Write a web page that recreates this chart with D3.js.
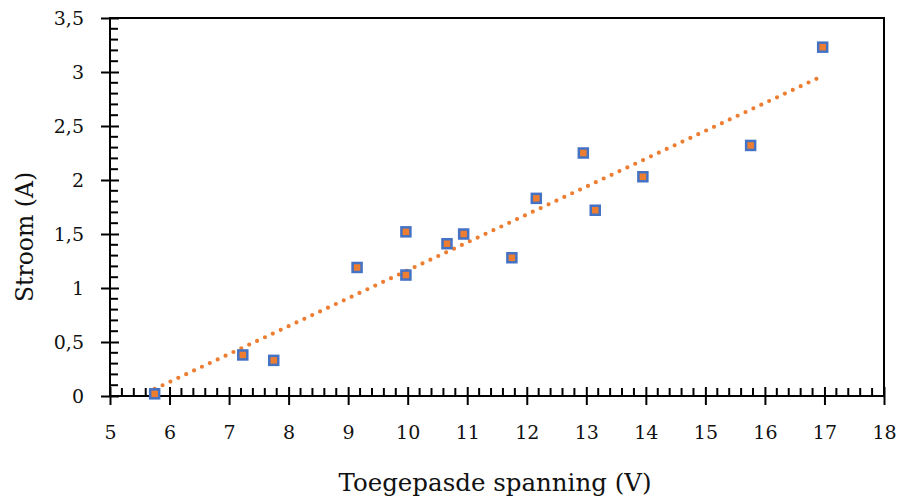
<!DOCTYPE html>
<html>
<head>
<meta charset="utf-8">
<script src="https://cdn.jsdelivr.net/npm/d3@7"></script>
<style>
  body { margin: 0; background: #fff; }
  svg text { font-family: "DejaVu Serif", "Liberation Serif", serif; fill: #111; }
</style>
</head>
<body>
<div id="chart"></div>
<script>
// measured points
const spanning = [5.75, 7.23, 7.75, 9.15, 9.97, 9.97, 10.66, 10.94, 11.75, 12.16, 12.95, 13.15, 13.95, 15.76, 16.97];
const stroom   = [0.02, 0.38, 0.33, 1.19, 1.52, 1.12, 1.41, 1.50, 1.28, 1.83, 2.25, 1.72, 2.03, 2.32, 3.23];
const xTicks = [5, 6, 7, 8, 9, 10, 11, 12, 13, 14, 15, 16, 17, 18];
const yTicks = [0, 0.5, 1, 1.5, 2, 2.5, 3, 3.5];

const width = 898, height = 499;
const margin = { top: 18, right: 14, bottom: 103, left: 110 };
const w = width - margin.left - margin.right;
const h = height - margin.top - margin.bottom;

const svg = d3.select("#chart").append("svg")
    .attr("width", width)
    .attr("height", height);

const g = svg.append("g")
    .attr("transform", `translate(${margin.left},${margin.top})`);

const x = d3.scaleLinear().domain([5, 18]).range([0, w]);
const y = d3.scaleLinear().domain([0, 3.5]).range([h, 0]);

g.append("defs").append("clipPath").attr("id", "plotclip")
  .append("rect").attr("width", w).attr("height", h);

// frame
g.append("rect")
    .attr("width", w).attr("height", h)
    .attr("fill", "none")
    .attr("stroke", "#000")
    .attr("stroke-width", 2);

// minor ticks (inside)
const xMinor = d3.range(5, 18.001, 0.2).filter(v => Math.abs(v - Math.round(v)) > 0.01);
g.append("g").selectAll("line")
  .data(xMinor)
  .join("line")
    .attr("x1", d => x(d)).attr("x2", d => x(d))
    .attr("y1", h).attr("y2", h - 8)
    .attr("stroke", "#000").attr("stroke-width", 2);

const yMinor = d3.range(0, 3.5001, 0.1).filter(v => Math.abs(v * 2 - Math.round(v * 2)) > 0.01);
g.append("g").selectAll("line")
  .data(yMinor)
  .join("line")
    .attr("x1", 0).attr("x2", 8)
    .attr("y1", d => y(d)).attr("y2", d => y(d))
    .attr("stroke", "#000").attr("stroke-width", 2);

// major axes, ticks cross the axis line
const xAxis = g.append("g")
    .attr("transform", `translate(0,${h})`)
    .call(d3.axisBottom(x).tickValues(xTicks).tickSize(9).tickSizeOuter(0).tickPadding(21)
      .tickFormat(d3.format("d")));
xAxis.select(".domain").remove();
xAxis.selectAll(".tick line").attr("y1", -9).attr("stroke-width", 2);
xAxis.selectAll("text").style("font-size", "19px");

const fmt = v => String(v).replace(".", ",");
const yAxis = g.append("g")
    .call(d3.axisLeft(y).tickValues(yTicks).tickSize(9).tickSizeOuter(0).tickPadding(17)
      .tickFormat(fmt));
yAxis.select(".domain").remove();
yAxis.selectAll(".tick line").attr("x1", 9).attr("stroke-width", 2);
yAxis.selectAll("text").style("font-size", "19px");

// linear trend line
const mx = d3.mean(spanning), my = d3.mean(stroom);
const slope = d3.sum(spanning, (v, i) => (v - mx) * (stroom[i] - my)) / d3.sum(spanning, v => (v - mx) ** 2);
const icpt = my - slope * mx;
const [x0, x1] = d3.extent(spanning);

g.append("line")
    .attr("clip-path", "url(#plotclip)")
    .attr("x1", x(x0)).attr("y1", y(icpt + slope * x0))
    .attr("x2", x(x1)).attr("y2", y(icpt + slope * x1))
    .attr("stroke", "#ED7D31")
    .attr("stroke-width", 4.2)
    .attr("stroke-linecap", "round")
    .attr("stroke-dasharray", "0 8.7");

// markers
g.append("g").selectAll("rect")
  .data(spanning.map((v, i) => [v, stroom[i]]))
  .join("rect")
    .attr("x", d => x(d[0]) - 4.5)
    .attr("y", d => y(d[1]) - 4.5)
    .attr("width", 9).attr("height", 9)
    .attr("fill", "#ED7D31")
    .attr("stroke", "#4472C4")
    .attr("stroke-width", 2.5);

// axis titles
svg.append("text")
    .attr("x", 495).attr("y", 491)
    .attr("text-anchor", "middle")
    .style("font-size", "24.5px")
    .text("Toegepasde spanning (V)");

svg.append("text")
    .attr("transform", "translate(33,237) rotate(-90)")
    .attr("text-anchor", "middle")
    .style("font-size", "23.5px")
    .text("Stroom (A)");
</script>
</body>
</html>
